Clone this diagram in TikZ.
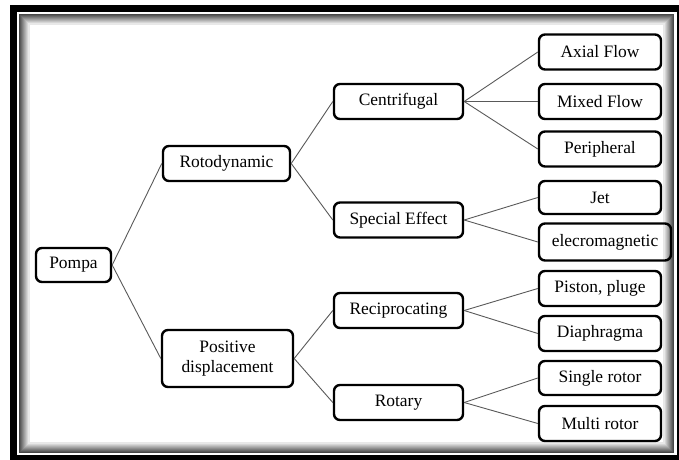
\documentclass[tikz,border=0pt]{standalone}
\usepackage{fontspec}
\setmainfont{Liberation Serif}
\usetikzlibrary{positioning}
\tikzstyle{box}=[draw,rounded corners=6bp,line width=2.4bp,inner sep=2pt,align=center,font=\fontsize{17.5}{19.5}\selectfont]
\tikzstyle{link}=[draw=black!65,line width=0.9bp]

\begin{document}
\begin{tikzpicture}[x=1bp,y=-1bp]
\useasboundingbox (0,0) rectangle (679,460);

%frame
    \draw[line width=7bp] (13.5,8.5) rectangle (680.5,458.5);
    \foreach \i [evaluate=\i as \c using int(72-7*\i)] in {0,...,9}
        \draw[black!\c,line width=1.2bp] (20+\i,15+\i) rectangle (673-\i,452-\i);

%boxes
    \foreach \pos/\name/\bw/\bh/\txt in {{(73.5,265)/pompa/75/34/Pompa}, {(226.5,163.5)/roto/127/35/Rotodynamic}, {(227.5,358.5)/posdis/131/57/Positive\\displacement},
        {(398.5,101.5)/centri/129/35/Centrifugal}, {(398.5,220)/special/129/35/Special Effect}, {(398.5,310.5)/recip/129/35/Reciprocating}, {(398.5,402.5)/rotary/129/35/Rotary},
        {(600,52)/axial/122/35/Axial Flow}, {(600,101.5)/mixed/122/35/Mixed Flow}, {(600,149)/periph/122/35/Peripheral}, {(600,197.5)/jet/122/33/Jet}, {(605,242)/elec/132/37/elecromagnetic},
        {(600,288.5)/piston/122/35/{Piston, pluge}}, {(600,333.5)/diaph/122/35/Diaphragma}, {(600,378)/single/122/34/Single rotor}, {(600,423.5)/multi/122/35/Multi rotor}}
        \node[box,minimum width=\bw bp,minimum height=\bh bp] (\name) at \pos {\txt};

%links
    \foreach \source/\dest in {pompa/roto, pompa/posdis, roto/centri, roto/special, posdis/recip, posdis/rotary,
        centri/axial, centri/mixed, centri/periph, special/jet, special/elec, recip/piston, recip/diaph, rotary/single, rotary/multi}
        \draw[link] (\source.east) -- (\dest.west);

\end{tikzpicture}
\end{document}
